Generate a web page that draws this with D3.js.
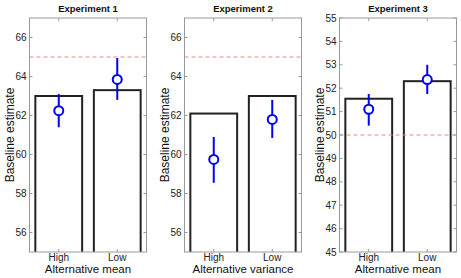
<!DOCTYPE html>
<html>
<head>
<meta charset="utf-8">
<script src="https://cdn.jsdelivr.net/npm/d3@7"></script>
<style>
  body { margin: 0; background: #fff; }
  svg { display: block; font-family: "Liberation Sans", Arial, sans-serif; }
</style>
</head>
<body>
<svg id="chart"></svg>
<script>
const titles = ['Experiment 1', 'Experiment 2', 'Experiment 3'];
const categories = ['High', 'Low'];
const xLabels = ['Alternative mean', 'Alternative variance', 'Alternative mean'];
const barValues = [[63.0, 63.3], [62.1, 63.0], [51.55, 52.3]];
const pointValues = [[62.25, 63.85], [59.75, 61.8], [51.1, 52.37]];
const errLow = [[61.4, 62.8], [58.55, 60.85], [50.4, 51.75]];
const errHigh = [[63.1, 64.95], [60.9, 62.8], [51.75, 53.0]];
const refValues = [65, 65, 50];
const yDomains = [[55, 67], [55, 67], [45, 55]];
const yTicks = [
  [56, 58, 60, 62, 64, 66],
  [56, 58, 60, 62, 64, 66],
  [45, 46, 47, 48, 49, 50, 51, 52, 53, 54, 55]
];

const W = 461, H = 278;
const panelLeft = [29.5, 184.5, 339.5];
const panelW = 117, plotTop = 18, plotBottom = 252;

const svg = d3.select('#chart').attr('width', W).attr('height', H);

titles.forEach((title, p) => {
  const x0 = panelLeft[p];
  const g = svg.append('g').attr('transform', `translate(${x0},0)`);

  const x = d3.scaleLinear().domain([0.5, 2.5]).range([0, panelW]);
  const y = d3.scaleLinear().domain(yDomains[p]).range([plotBottom, plotTop]);

  g.append('clipPath').attr('id', `clip${p}`)
    .append('rect').attr('x', 0).attr('y', plotTop).attr('width', panelW).attr('height', plotBottom - plotTop);

  const plot = g.append('g').attr('clip-path', `url(#clip${p})`);

  // bars
  const bw = x(1.4) - x(0.6);
  plot.selectAll('.bar')
    .data(barValues[p])
    .join('rect')
    .attr('class', 'bar')
    .attr('x', (d, i) => x(i + 1) - bw / 2)
    .attr('width', bw)
    .attr('y', d => y(d))
    .attr('height', d => plotBottom + 5 - y(d))
    .attr('fill', '#fff')
    .attr('stroke', '#222')
    .attr('stroke-width', 2);

  // reference line (drawn over the bars)
  plot.append('line')
    .attr('x1', 0).attr('x2', panelW)
    .attr('y1', y(refValues[p])).attr('y2', y(refValues[p]))
    .attr('stroke', '#e8888a').attr('stroke-width', 1)
    .attr('stroke-dasharray', '4,3');

  // axis box
  g.append('rect')
    .attr('x', 0).attr('y', plotTop).attr('width', panelW).attr('height', plotBottom - plotTop)
    .attr('fill', 'none').attr('stroke', '#999').attr('stroke-width', 1);

  // y ticks (both sides, inward)
  yTicks[p].forEach(t => {
    g.append('line').attr('x1', 0).attr('x2', 3).attr('y1', y(t)).attr('y2', y(t))
      .attr('stroke', '#999');
    g.append('line').attr('x1', panelW - 3).attr('x2', panelW).attr('y1', y(t)).attr('y2', y(t))
      .attr('stroke', '#999');
    g.append('text')
      .attr('x', -3).attr('y', y(t)).attr('dy', '0.35em')
      .attr('text-anchor', 'end').attr('font-size', 10).attr('fill', '#222')
      .text(t);
  });

  // x ticks (top and bottom, inward)
  categories.forEach((c, i) => {
    g.append('line').attr('x1', x(i + 1)).attr('x2', x(i + 1)).attr('y1', plotTop).attr('y2', plotTop + 3)
      .attr('stroke', '#999');
    g.append('line').attr('x1', x(i + 1)).attr('x2', x(i + 1)).attr('y1', plotBottom - 3).attr('y2', plotBottom)
      .attr('stroke', '#999');
    g.append('text')
      .attr('x', x(i + 1)).attr('y', 261)
      .attr('text-anchor', 'middle').attr('font-size', 10).attr('fill', '#222')
      .text(c);
  });

  // error bars + points
  categories.forEach((c, i) => {
    g.append('line')
      .attr('x1', x(i + 1)).attr('x2', x(i + 1))
      .attr('y1', y(errLow[p][i])).attr('y2', y(errHigh[p][i]))
      .attr('stroke', '#0000ff').attr('stroke-width', 2);
    g.append('circle')
      .attr('cx', x(i + 1)).attr('cy', y(pointValues[p][i])).attr('r', 4.5)
      .attr('fill', '#fff').attr('stroke', '#0000ff').attr('stroke-width', 2);
  });

  // title
  g.append('text')
    .attr('x', panelW / 2).attr('y', 9).attr('dy', '0.35em')
    .attr('text-anchor', 'middle').attr('font-size', 9.5).attr('font-weight', 'bold')
    .attr('fill', '#111')
    .text(title);

  // x label
  g.append('text')
    .attr('x', panelW / 2).attr('y', 273)
    .attr('text-anchor', 'middle').attr('font-size', 11.5).attr('fill', '#111')
    .text(xLabels[p]);

  // y label
  g.append('text')
    .attr('transform', `translate(${-16},${(plotTop + plotBottom) / 2}) rotate(-90)`)
    .attr('text-anchor', 'middle').attr('font-size', 12).attr('fill', '#111')
    .text('Baseline estimate');
});
</script>
</body>
</html>
